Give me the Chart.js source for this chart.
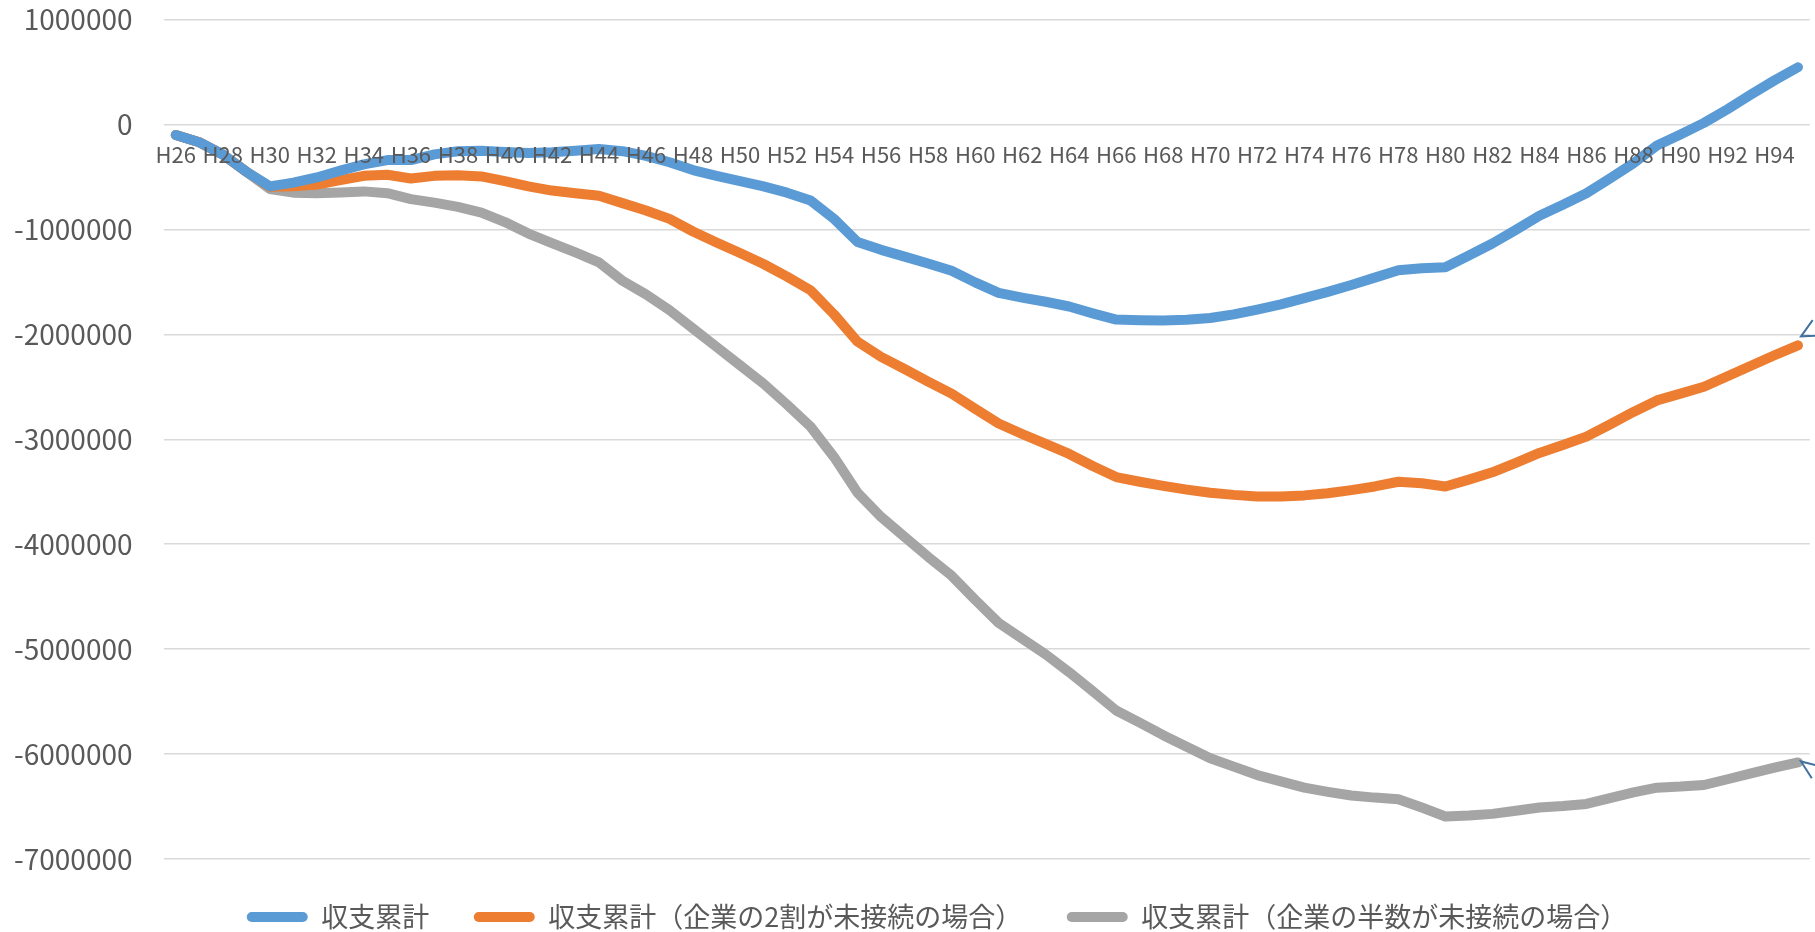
<!DOCTYPE html>
<html lang="ja">
<head>
<meta charset="utf-8">
<title>収支累計</title>
<script src="https://cdn.jsdelivr.net/npm/chart.js@4.4.1/dist/chart.umd.min.js"></script>
<style>
  html, body { margin: 0; padding: 0; background: #ffffff; overflow: hidden; }
  canvas { display: block; }
</style>
</head>
<body>
<canvas id="chart" width="1815" height="932" style="width:1815px;height:932px"></canvas>
<script>
// Fiscal years (Heisei era)
const categories = [
  "H26","H27","H28","H29","H30","H31","H32","H33","H34","H35",
  "H36","H37","H38","H39","H40","H41","H42","H43","H44","H45",
  "H46","H47","H48","H49","H50","H51","H52","H53","H54","H55",
  "H56","H57","H58","H59","H60","H61","H62","H63","H64","H65",
  "H66","H67","H68","H69","H70","H71","H72","H73","H74","H75",
  "H76","H77","H78","H79","H80","H81","H82","H83","H84","H85",
  "H86","H87","H88","H89","H90","H91","H92","H93","H94","H95"
];

// Cumulative balance
const balanceTotal = [
  -100000, -170000, -286000, -450000, -590000, -555000, -505000, -440000, -380000, -340000,
  -340000, -285000, -255000, -250000, -262000, -272000, -265000, -250000, -235000, -255000,
  -300000, -360000, -435000, -490000, -540000, -590000, -650000, -725000, -900000, -1120000,
  -1195000, -1260000, -1325000, -1395000, -1505000, -1605000, -1650000, -1690000, -1735000, -1800000,
  -1860000, -1865000, -1868000, -1862000, -1845000, -1810000, -1765000, -1715000, -1655000, -1595000,
  -1530000, -1460000, -1390000, -1370000, -1360000, -1250000, -1135000, -1005000, -870000, -765000,
  -655000, -515000, -370000, -200000, -95000, 15000, 145000, 285000, 420000, 545000
];

// Cumulative balance, 20% of companies not connected
const balance20pct = [
  -100000, -170000, -286000, -450000, -595000, -590000, -572000, -530000, -490000, -480000,
  -515000, -490000, -485000, -495000, -540000, -590000, -630000, -655000, -680000, -750000,
  -820000, -900000, -1020000, -1125000, -1225000, -1330000, -1450000, -1580000, -1810000, -2070000,
  -2215000, -2330000, -2450000, -2565000, -2710000, -2850000, -2950000, -3045000, -3140000, -3255000,
  -3360000, -3405000, -3445000, -3480000, -3510000, -3530000, -3545000, -3545000, -3535000, -3515000,
  -3485000, -3450000, -3405000, -3420000, -3450000, -3385000, -3315000, -3225000, -3130000, -3055000,
  -2975000, -2860000, -2740000, -2630000, -2565000, -2500000, -2400000, -2300000, -2200000, -2105000
];

// Cumulative balance, half of companies not connected
const balanceHalf = [
  -100000, -170000, -286000, -450000, -615000, -650000, -655000, -648000, -638000, -655000,
  -712000, -745000, -785000, -840000, -930000, -1040000, -1130000, -1220000, -1315000, -1490000,
  -1620000, -1770000, -1945000, -2120000, -2295000, -2470000, -2670000, -2880000, -3170000, -3510000,
  -3740000, -3930000, -4120000, -4300000, -4530000, -4750000, -4900000, -5050000, -5220000, -5400000,
  -5585000, -5700000, -5820000, -5930000, -6040000, -6120000, -6200000, -6260000, -6320000, -6360000,
  -6395000, -6415000, -6430000, -6510000, -6595000, -6585000, -6570000, -6540000, -6510000, -6495000,
  -6475000, -6420000, -6365000, -6320000, -6310000, -6295000, -6240000, -6185000, -6130000, -6080000
];

const seriesNames = [
  "収支累計",
  "収支累計（企業の2割が未接続の場合）",
  "収支累計（企業の半数が未接続の場合）"
];

const yTickMin = -7000000;
const yTickMax = 1000000;
const yTickStep = 1000000;

const FONT = "'Noto Sans CJK JP', 'Noto Sans', sans-serif";
const TEXT_COLOR = "#595959";
const colors = ["#5B9BD5", "#ED7D31", "#A5A5A5"];

function lineDataset(label, data, color) {
  return {
    label: label,
    data: data,
    borderColor: color,
    backgroundColor: color,
    borderWidth: 10,
    borderCapStyle: "round",
    borderJoinStyle: "round",
    pointRadius: 0,
    pointHoverRadius: 0,
    tension: 0,
    fill: false
  };
}

// Small outlined arrow callouts pointing at the end of two of the lines
const calloutArrows = {
  id: "calloutArrows",
  afterDatasetsDraw(chart) {
    const ctx = chart.ctx;
    const draw = (dsIndex, dy, wingA, wingB) => {
      const meta = chart.getDatasetMeta(dsIndex);
      const pt = meta.data[meta.data.length - 1];
      if (!pt) return;
      const tx = pt.x + 3, ty = pt.y + dy;
      ctx.save();
      ctx.strokeStyle = "#41719C";
      ctx.lineWidth = 2;
      ctx.lineJoin = "miter";
      ctx.beginPath();
      ctx.moveTo(tx + 20 * Math.cos(wingA), ty + 20 * Math.sin(wingA));
      ctx.lineTo(tx, ty);
      ctx.lineTo(tx + 20 * Math.cos(wingB), ty + 20 * Math.sin(wingB));
      ctx.stroke();
      ctx.restore();
    };
    draw(1, -9, -0.95, -0.05);
    draw(2, -1, 0.25, 1.0);
  }
};

// Legend is centred a little to the right of the canvas centre
const legendOffset = {
  id: "legendOffset",
  afterLayout(chart) {
    if (chart.legend) chart.legend.left += 59;
  }
};

new Chart(document.getElementById("chart"), {
  type: "line",
  data: {
    labels: categories,
    datasets: [
      lineDataset(seriesNames[0], balanceTotal, colors[0]),
      lineDataset(seriesNames[1], balance20pct, colors[1]),
      lineDataset(seriesNames[2], balanceHalf, colors[2])
    ]
  },
  plugins: [calloutArrows, legendOffset],
  options: {
    responsive: false,
    animation: false,
    events: [],
    layout: { padding: { left: 0, right: 0, top: 19.5, bottom: -8.5 } },
    plugins: {
      tooltip: { enabled: false },
      legend: {
        position: "bottom",
        align: "center",
        labels: {
          color: TEXT_COLOR,
          font: { family: FONT, size: 27 },
          boxWidth: 61,
          boxHeight: 10,
          padding: 44.5,
          useBorderRadius: true,
          borderRadius: 5,
          generateLabels(chart) {
            const items = Chart.defaults.plugins.legend.labels.generateLabels(chart);
            items.forEach(it => { it.lineWidth = 0; it.borderRadius = 5; });
            return items;
          }
        }
      }
    },
    scales: {
      x: {
        type: "category",
        position: { y: 0 },
        offset: true,
        grid: { display: false, drawTicks: false },
        border: { display: false },
        ticks: {
          z: 1,
          autoSkip: false,
          maxRotation: 0,
          minRotation: 0,
          padding: 17,
          color: TEXT_COLOR,
          font: { family: FONT, size: 22 },
          callback: function (value, index) {
            return index % 2 === 0 ? categories[index] : "";
          }
        },
        afterFit(scale) { scale.height = 0; }
      },
      y: {
        type: "linear",
        min: yTickMin,
        max: yTickMax,
        grid: {
          color: "#d9d9d9",
          lineWidth: 1.5,
          drawTicks: true,
          tickLength: 31.5,
          tickColor: "rgba(0,0,0,0)"
        },
        border: { display: false },
        ticks: {
          stepSize: yTickStep,
          padding: 0,
          color: TEXT_COLOR,
          font: { family: FONT, size: 28 },
          callback: v => String(v)
        },
        afterFit(scale) { scale.width = 164; }
      }
    }
  }
});
</script>
</body>
</html>
